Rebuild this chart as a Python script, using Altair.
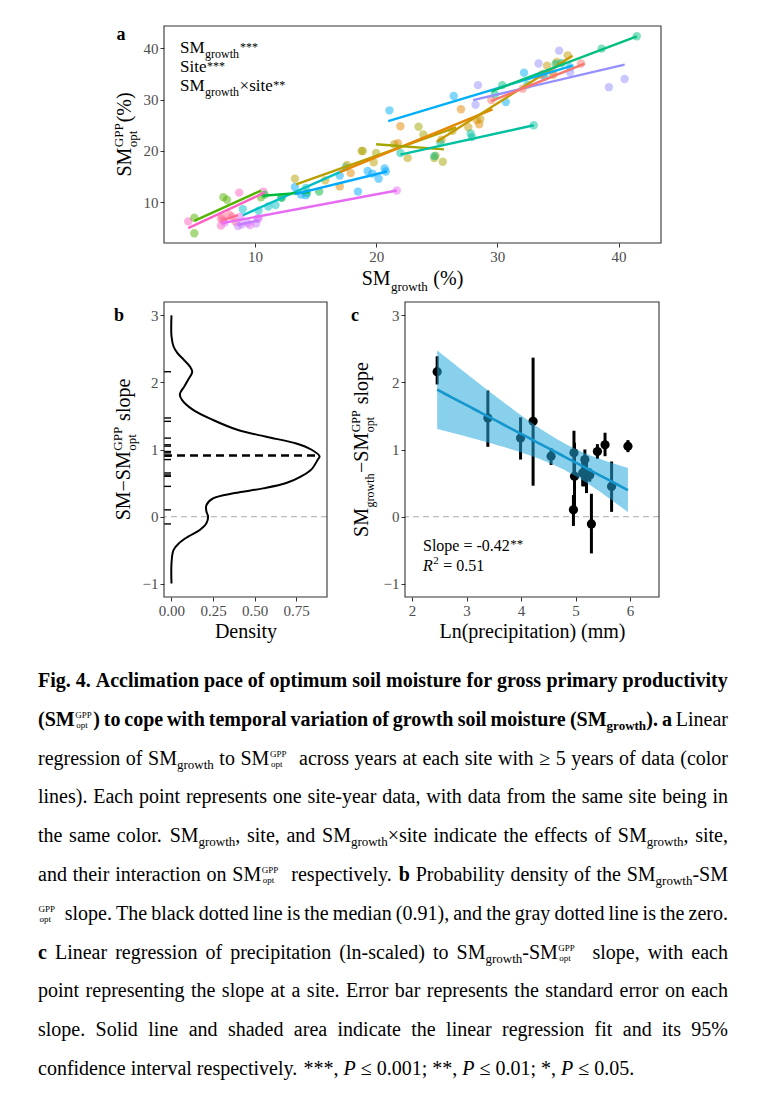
import altair as alt
import numpy as np
import pandas as pd

FONT = "Liberation Serif"
LABEL_GRAY = "#4D4D4D"
FRAME = "#333333"

# ---------------- panel a : site-year points and per-site fits ----------------
SITES = ["S01", "S02", "S03", "S04", "S05", "S06", "S07", "S08", "S09",
         "S10", "S11", "S12", "S13", "S14", "S15", "S16", "S17"]
SITE_COLORS = ["#FF61C3", "#53B400", "#FF6C91", "#C77CFF", "#E76BF3", "#00BFC4",
               "#00BA38", "#00A9FF", "#B79F00", "#E58700", "#C49A00", "#A3A500",
               "#00C19F", "#00B0F6", "#00BF7D", "#9590FF", "#F8766D"]

a_site = ([1] * 5 + [2] * 5 + [3] * 5 + [4] * 5 + [5] * 5 + [6] * 7 + [7] * 4 +
          [8] * 10 + [9] * 8 + [10] * 7 + [11] * 8 + [12] * 7 + [13] * 6 +
          [14] * 6 + [15] * 7 + [16] * 7 + [17] * 5)
a_x = [4.5, 7.2, 7.4, 8.7, 10.7,
       5.0, 5.0, 7.4, 7.7, 10.5,
       7.3, 7.9, 8.4, 8.1, 7.2,
       8.6, 10.1, 10.2, 9.4, 8.9,
       7.5, 8.8, 10.3, 21.7, 9.6,
       9.0, 10.3, 11.1, 11.7, 12.2, 14.2, 17.5,
       10.8, 12.2, 14.3, 15.3,
       13.3, 13.8, 14.2, 17.0, 18.5, 19.3, 19.7, 20.2, 20.7, 20.8,
       13.3, 15.8, 17.6, 18.8, 19.8, 21.5, 22.6, 26.3,
       17.0, 17.9, 21.8, 22.0, 27.0, 28.3, 28.5,
       25.4, 27.6, 28.6, 33.8, 34.1, 34.9, 35.8, 34.6,
       18.9, 20.0, 23.5, 24.9, 25.5, 24.8, 23.9,
       22.0, 24.8, 25.3, 27.8, 27.9, 33.0,
       21.1, 26.4, 30.7, 32.2, 33.9, 36.0,
       29.8, 30.4, 32.5, 34.8, 35.3, 38.6, 41.5,
       28.2, 28.4, 33.4, 35.1, 36.0, 39.2, 40.5,
       29.5, 32.1, 33.6, 36.9, 34.6]
a_y = [6.3, 5.5, 6.5, 11.9, 12.1,
       7.0, 4.0, 11.0, 10.5, 11.0,
       7.3, 7.6, 6.2, 7.2, 6.8,
       5.4, 5.9, 6.8, 6.0, 5.7,
       6.1, 7.2, 6.9, 12.3, 5.6,
       8.7, 8.4, 9.2, 9.5, 11.0, 12.8, 16.9,
       11.5, 10.9, 11.8, 12.1,
       13.0, 11.5, 11.4, 15.2, 12.1, 16.1, 15.6, 14.6, 16.6, 16.0,
       14.6, 14.3, 17.3, 20.0, 17.8, 21.3, 18.6, 23.9,
       13.1, 15.7, 21.5, 24.8, 28.1, 26.0, 25.2,
       22.2, 24.6, 26.2, 35.0, 36.6, 37.3, 38.6, 34.8,
       20.0, 19.6, 24.7, 19.1, 17.9, 18.6, 23.2,
       19.6, 19.0, 21.6, 23.4, 22.7, 25.0,
       27.9, 30.7, 29.5, 35.2, 34.4, 36.3,
       31.0, 32.8, 32.9, 36.9, 37.1, 39.9, 42.3,
       29.0, 32.8, 37.0, 39.5, 35.3, 32.4, 34.0,
       29.9, 32.1, 34.8, 37.0, 35.4]

# fitted line end points per site
fit_x0 = [4.5, 5.0, 7.3, 8.6, 7.4, 9.0, 10.65, 13.3, 13.4, 17.0, 25.0, 20.0, 22.0, 21.0, 29.5, 28.0, 29.5]
fit_y0 = [5.0, 6.4, 6.5, 5.6, 6.0, 7.5, 11.3, 11.6, 13.5, 15.9, 21.8, 21.3, 19.3, 25.8, 31.6, 29.9, 29.7]
fit_x1 = [10.8, 10.5, 8.6, 10.3, 21.7, 17.7, 14.5, 20.9, 26.6, 29.6, 36.2, 25.6, 33.0, 36.2, 41.5, 40.5, 37.2]
fit_y1 = [11.9, 12.3, 7.5, 6.5, 12.3, 16.6, 12.0, 16.0, 24.6, 28.1, 38.5, 20.3, 25.0, 36.6, 42.3, 36.8, 37.0]

# ---------------- panel b : density of slopes ----------------
dens_y = [-1.0, -0.7, -0.5, -0.4, -0.3, -0.2, -0.1, 0.0, 0.075, 0.17, 0.27, 0.35, 0.42,
          0.5, 0.6, 0.7, 0.85, 0.9, 1.0, 1.09, 1.19, 1.29, 1.44, 1.59, 1.74, 1.82,
          1.87, 1.94, 2.04, 2.16, 2.24, 2.34, 2.44, 2.54, 2.69, 3.0]
dens_x = [0.0, 0.0, 0.012, 0.044, 0.10, 0.17, 0.21, 0.22, 0.21, 0.21, 0.25, 0.38, 0.55,
          0.69, 0.78, 0.84, 0.88, 0.89, 0.84, 0.75, 0.57, 0.40, 0.25, 0.13, 0.063, 0.05,
          0.058, 0.077, 0.10, 0.125, 0.11, 0.073, 0.035, 0.012, 0.0, 0.0]
MEDIAN_SLOPE = 0.91
MEDIAN_DENS = 0.89

# ---------------- panel c : slope vs ln(precipitation) ----------------
c_x = [2.46, 3.39, 3.99, 4.22, 4.55, 4.96, 4.97, 4.98, 5.17, 5.13, 5.20, 5.26, 5.29, 5.40, 5.54, 5.66, 5.96]
c_y = [2.16, 1.47, 1.17, 1.42, 0.90, 0.10, 0.95, 0.60, 0.85, 0.65, 0.60, 0.62, -0.11, 0.97, 1.07, 0.45, 1.05]
c_lo = [1.97, 1.04, 0.85, 0.46, 0.77, -0.14, 0.62, 0.10, 0.45, 0.45, 0.35, 0.52, -0.55, 0.86, 0.90, 0.07, 0.96]
c_hi = [2.39, 1.88, 1.48, 2.37, 1.02, 0.32, 1.28, 1.10, 1.00, 0.85, 0.80, 0.72, 0.34, 1.08, 1.25, 0.82, 1.14]

# ---------------- caption ----------------
CAPTION = [
    [("b", "Fig. 4. Acclimation pace of optimum soil moisture for gross primary productivity")],
    [("b", "(SM"), ("ss", ""), ("b", ") to cope with temporal variation of growth soil moisture (SM"),
     ("bsub", "growth"), ("b", "). a"), ("n", " Linear")],
    [("n", "regression of SM"), ("sub", "growth"), ("n", " to SM"), ("ss", ""),
     ("n", "  across years at each site with \u2265 5 years of data (color")],
    [("n", "lines). Each point represents one site-year data, with data from the same site being in")],
    [("n", "the same color. SM"), ("sub", "growth"), ("n", ", site, and SM"), ("sub", "growth"),
     ("n", "\u00d7site indicate the effects of SM"), ("sub", "growth"), ("n", ", site,")],
    [("n", "and their interaction on SM"), ("ss", ""), ("n", "  respectively. "), ("b", "b"),
     ("n", " Probability density of the SM"), ("sub", "growth"), ("n", "-SM")],
    [("ss", ""), ("n", "  slope. The black dotted line is the median (0.91), and the gray dotted line is the zero.")],
    [("b", "c"), ("n", " Linear regression of precipitation (ln-scaled) to SM"), ("sub", "growth"),
     ("n", "-SM"), ("ss", ""), ("n", "  slope, with each")],
    [("n", "point representing the slope at a site. Error bar represents the standard error on each")],
    [("n", "slope. Solid line and shaded area indicate the linear regression fit and its 95%")],
    [("n", "confidence interval respectively. ***, "), ("i", "P"), ("n", " \u2264 0.001; **, "), ("i", "P"),
     ("n", " \u2264 0.01; *, "), ("i", "P"), ("n", " \u2264 0.05.")],
]


# ---------------- text width helper (Times metrics) ----------------
def _mk(groups):
    d = {}
    for w, chars in groups.items():
        for ch in chars:
            d[ch] = w
    return d


W_R = _mk({250: " .,", 278: "ijlt:;/", 333: "fr()-I'[]", 389: "sJ", 444: "acez?",
           500: "bdghknopquvxy0123456789*#$\u2013", 549: "\u2265\u2264", 556: "FPS",
           564: "\u00d7=+<>\u2212", 611: "ELTZ", 667: "BCR", 722: "ADGHKNOQUVXYw",
           778: "m&", 833: "%", 889: "M", 944: "W"})
W_B = _mk({250: " .,", 278: "ijl", 333: "ft()-:;Ij", 389: "s", 444: "cerz",
           500: "agvxy0123456789*J\u2013", 556: "bdhknpquS", 570: "=+\u00d7\u2212\u2265\u2264",
           611: "FP", 667: "ELTZB", 722: "ACDNRUVXYw", 778: "GHKOQ", 833: "m", 944: "M",
           1000: "%W"})
W_I = dict(W_R)
W_I.update({"P": 611, "R": 611})


def tw(text, size, weight="normal", italic=False):
    tab = W_B if weight == "bold" else (W_I if italic else W_R)
    return sum(tab.get(c, 500) for c in text) * size / 1000.0


ONE = pd.DataFrame({"k": [0]})


def txt(s, x, y, size, weight="normal", style="normal", angle=0, align="left",
        baseline="alphabetic", color="black"):
    return alt.Chart(ONE).mark_text(
        text=s, font=FONT, fontSize=size, fontWeight=weight, fontStyle=style,
        angle=angle, align=align, baseline=baseline, color=color
    ).encode(x=alt.value(x), y=alt.value(y))


def _piece_w(t, k, size, small):
    if k == "m":
        return tw(t, size)
    if k == "i":
        return tw(t, size, italic=True)
    if k in ("sub", "sup", "star"):
        return tw(t, small) + 1
    if k == "ss":
        return max(tw("GPP", small), tw("opt", small)) + 1.5
    return 0.0


def rich_w(pieces, size, small):
    return sum(_piece_w(t, k, size, small) for t, k in pieces)


def rich(pieces, x0, y0, size, small, angle=0, star_raise=0.12):
    """Lay out a run of text pieces (main / italic / sub / sup / stacked GPP-opt)."""
    layers = []
    u = 0.0

    def place(t, du, dv, fs, style="normal"):
        if angle == 0:
            px, py = x0 + du, y0 + dv
        else:
            px, py = x0 + dv, y0 - du
        layers.append(txt(t, px, py, fs, style=style, angle=angle))

    for t, k in pieces:
        # SVG drops leading blanks, so turn them into an advance of the cursor
        lead = len(t) - len(t.lstrip(" "))
        if lead:
            u += lead * tw(" ", size if k in ("m", "i") else small)
            t = t.lstrip(" ")
        if k == "m":
            place(t, u, 0, size)
        elif k == "i":
            place(t, u, 0, size, "italic")
        elif k == "sub":
            place(t, u + 0.5, size * 0.28, small)
        elif k == "sup":
            place(t, u + 0.5, -size * 0.42, small)
        elif k == "star":
            place(t, u + 0.5, -size * star_raise, small)
        elif k == "ss":
            place("GPP", u + 0.5, -size * 0.42, small)
            place("opt", u + 0.5, size * 0.28, small)
        u += _piece_w(t, k, size, small)
    return layers


def marker(x, y):
    return alt.Chart(ONE).mark_point(opacity=0, size=1).encode(x=alt.value(x), y=alt.value(y))


def frame(w, h):
    return alt.Chart(ONE).mark_rect(fillOpacity=0, stroke=FRAME, strokeWidth=1.1).encode(
        x=alt.value(0), x2=alt.value(w), y=alt.value(0), y2=alt.value(h))


LEFT_EXT = 126

# ================= panel a =================
WA, HA = 497, 217
df_a = pd.DataFrame({"site": [SITES[i - 1] for i in a_site], "x": a_x, "y": a_y})
df_fit = pd.DataFrame({
    "site": SITES + SITES,
    "x": fit_x0 + fit_x1,
    "y": fit_y0 + fit_y1,
})
XA = alt.X("x:Q", scale=alt.Scale(domain=[2.5, 43.5], nice=False, zero=False),
           axis=alt.Axis(values=[10, 20, 30, 40], title=None))
YA = alt.Y("y:Q", scale=alt.Scale(domain=[2.1, 44.3], nice=False, zero=False),
           axis=alt.Axis(values=[10, 20, 30, 40], title=None))
COLOR = alt.Color("site:N", scale=alt.Scale(domain=SITES, range=SITE_COLORS), legend=None)

a_pts = alt.Chart(df_a).mark_circle(size=70, opacity=0.5).encode(x=XA, y=YA, color=COLOR)
a_fit = alt.Chart(df_fit).mark_line(strokeWidth=2.4).encode(x=XA, y=YA, color=COLOR, detail="site:N")

a_texts = [txt("a", -43, 9, 18, weight="bold", align="center", baseline="middle")]
yt = [("SM", "m"), ("", "ss"), ("(%)", "m")]
a_texts += rich(yt, -33, HA / 2 + rich_w(yt, 20, 13) / 2, 20, 13, angle=270)
xt = [("SM", "m"), ("growth", "sub"), (" (%)", "m")]
a_texts += rich(xt, WA / 2 - rich_w(xt, 20, 13) / 2, HA + 42, 20, 13)
a_texts += rich([("SM", "m"), ("growth", "sub"), ("***", "star")], 16, 27, 17, 12)
a_texts += rich([("Site", "m"), ("***", "star")], 16, 46, 17, 12)
a_texts += rich([("SM", "m"), ("growth", "sub"), ("\u00d7site", "m"), ("**", "star")], 16, 65, 17, 12)

panel_a = alt.layer(a_pts, a_fit, frame(WA, HA), *a_texts, marker(-LEFT_EXT, HA + 52)).properties(
    width=WA, height=HA)

# ================= panel b =================
WB, HB = 163, 295
YSCALE = alt.Scale(domain=[-1.2, 3.2], nice=False, zero=False)
YAX = alt.Axis(values=[-1, 0, 1, 2, 3], title=None)
XB_SCALE = alt.Scale(domain=[-0.045, 0.935], nice=False, zero=False)
XB_AX = alt.Axis(values=[0, 0.25, 0.5, 0.75], format=".2f", title="Density", titlePadding=3)

df_dens = pd.DataFrame({"d": dens_x, "s": dens_y, "i": list(range(len(dens_y)))})
df_zero = pd.DataFrame({"s": [0.0]})
df_med = pd.DataFrame({"s": [MEDIAN_SLOPE], "d0": [XB_SCALE.domain[0]], "d1": [MEDIAN_DENS]})
df_rug = pd.DataFrame({"s": c_y})

b_zero = alt.Chart(df_zero).mark_rule(color="#BDBDBD", strokeDash=[6, 4], strokeWidth=1.3).encode(
    y=alt.Y("s:Q", scale=YSCALE, axis=YAX))
b_curve = alt.Chart(df_dens).mark_line(color="black", strokeWidth=2, interpolate="catmull-rom").encode(
    x=alt.X("d:Q", scale=XB_SCALE, axis=XB_AX), y=alt.Y("s:Q", scale=YSCALE, axis=YAX),
    order=alt.Order("i:Q"))
b_med = alt.Chart(df_med).mark_rule(color="black", strokeDash=[8, 5], strokeWidth=2.4).encode(
    x=alt.X("d0:Q", scale=XB_SCALE, axis=XB_AX), x2="d1:Q", y=alt.Y("s:Q", scale=YSCALE, axis=YAX))
b_rug = alt.Chart(df_rug).mark_rule(color="black", strokeWidth=1.4).encode(
    x=alt.value(0), x2=alt.value(7), y=alt.Y("s:Q", scale=YSCALE, axis=YAX))

b_texts = [txt("b", -45, 14, 18, weight="bold", align="center", baseline="middle")]
bt = [("SM\u2212SM", "m"), ("", "ss"), (" slope", "m")]
b_texts += rich(bt, -34, HB / 2 + rich_w(bt, 20, 13) / 2, 20, 13, angle=270)

panel_b = alt.layer(b_zero, b_curve, b_med, b_rug, frame(WB, HB), *b_texts,
                    marker(-LEFT_EXT, HB + 52)).properties(width=WB, height=HB)

# ================= panel c =================
WC, HC = 254, 295
XC_SCALE = alt.Scale(domain=[1.87, 6.53], nice=False, zero=False)
XC_AX = alt.Axis(values=[2, 3, 4, 5, 6], title="Ln(precipitation) (mm)", titlePadding=3)

cx = np.array(c_x)
cy = np.array(c_y)
n = len(cx)
b1, b0 = np.polyfit(cx, cy, 1)
xs = np.linspace(cx.min(), cx.max(), 80)
fit = b0 + b1 * xs
resid = cy - (b0 + b1 * cx)
s_res = np.sqrt((resid ** 2).sum() / (n - 2))
sxx = ((cx - cx.mean()) ** 2).sum()
se = s_res * np.sqrt(1.0 / n + (xs - cx.mean()) ** 2 / sxx)
T975 = 2.131  # Student t 0.975 quantile, df = 15
df_reg = pd.DataFrame({"p": xs, "fit": fit, "lo": fit - T975 * se, "hi": fit + T975 * se})
df_c = pd.DataFrame({"p": c_x, "s": c_y, "lo": c_lo, "hi": c_hi})


def YC(field):
    return alt.Y(field, scale=YSCALE, axis=YAX)


XC = alt.X("p:Q", scale=XC_SCALE, axis=XC_AX)

c_zero = alt.Chart(df_zero).mark_rule(color="#BDBDBD", strokeDash=[6, 4], strokeWidth=1.3).encode(
    y=YC("s:Q"))
c_err = alt.Chart(df_c).mark_rule(color="black", strokeWidth=3).encode(
    x=XC, y=YC("lo:Q"), y2="hi:Q")
c_pts = alt.Chart(df_c).mark_circle(size=85, color="black", opacity=1).encode(x=XC, y=YC("s:Q"))
c_band = alt.Chart(df_reg).mark_area(color="#25A8DC", opacity=0.54).encode(
    x=XC, y=YC("lo:Q"), y2="hi:Q")
c_line = alt.Chart(df_reg).mark_line(color="#1596CD", strokeWidth=2.6).encode(x=XC, y=YC("fit:Q"))

c_texts = [txt("c", -50, 14, 18, weight="bold", align="center", baseline="middle")]
ct = [("SM", "m"), ("growth", "sub"), ("\u2212SM", "m"), ("", "ss"), (" slope", "m")]
c_texts += rich(ct, -37, HC / 2 + rich_w(ct, 20, 12) / 2, 20, 12, angle=270)
c_texts += rich([("Slope = -0.42", "m"), ("**", "star")], 18, 249, 16, 13, star_raise=0.2)
c_texts += rich([("R", "i"), ("2", "sup"), (" = 0.51", "m")], 18, 269, 16, 11)

panel_c = alt.layer(c_zero, c_err, c_pts, c_band, c_line, frame(WC, HC), *c_texts,
                    marker(-62, HC + 52)).properties(width=WC, height=HC)

# ================= caption =================
CAP_W = 690
CAP_Y0 = 32
CAP_DY = 38.8
SIZES = {"n": 20, "b": 20, "i": 20, "sub": 13, "bsub": 13}


def run_w(st, text):
    if st == "ss":
        return tw("GPP", 9) + 2
    weight = "bold" if st in ("b", "bsub") else "normal"
    return tw(text, SIZES[st], weight, italic=(st == "i"))


items = []
for li, runs in enumerate(CAPTION):
    yb = CAP_Y0 + li * CAP_DY
    nat = sum(run_w(st, t) for st, t in runs)
    nsp = sum(t.count(" ") for st, t in runs if st in ("n", "b", "i"))
    extra = 0.0
    if li < len(CAPTION) - 1 and nsp:
        extra = max((CAP_W - nat) / nsp, -2.5)
    x = -LEFT_EXT
    for st, t in runs:
        if st == "ss":
            items.append(dict(t="GPP", x=x + 0.5, y=yb - 8, st="tiny"))
            items.append(dict(t="opt", x=x + 1.5, y=yb + 2, st="tiny"))
            x += run_w(st, t)
            continue
        parts = t.split(" ")
        for k, p in enumerate(parts):
            if k > 0:
                x += run_w(st, " ") + (extra if st in ("n", "b", "i") else 0)
            if p:
                yy = yb + (4 if st in ("sub", "bsub") else 0)
                items.append(dict(t=p, x=x, y=yy, st=st))
                x += run_w(st, p)

cap_df = pd.DataFrame(items)
CAP_STYLES = [("n", 20, "normal", "normal"), ("b", 20, "bold", "normal"), ("i", 20, "normal", "italic"),
              ("sub", 13, "normal", "normal"), ("bsub", 13, "bold", "normal"), ("tiny", 9, "normal", "normal")]
cap_layers = []
for st, fs, fw, fst in CAP_STYLES:
    cap_layers.append(
        alt.Chart(cap_df).transform_filter(alt.datum.st == st).mark_text(
            align="left", baseline="alphabetic", font=FONT, fontSize=fs, fontWeight=fw,
            fontStyle=fst, color="black"
        ).encode(x=alt.X("x:Q", scale=None, axis=None), y=alt.Y("y:Q", scale=None, axis=None),
                 text="t:N")
    )
caption = alt.layer(*cap_layers, marker(-LEFT_EXT, 0)).properties(width=CAP_W - LEFT_EXT, height=425)

# ================= assemble =================
bc = alt.hconcat(panel_b, panel_c, spacing=13)
chart = alt.vconcat(panel_a, bc, caption, spacing=4).properties(
    padding={"left": 29, "top": 16, "right": 5, "bottom": 5}
).configure_axis(
    labelFont=FONT, titleFont=FONT, labelFontSize=15, labelColor=LABEL_GRAY,
    tickColor=FRAME, tickSize=4, tickWidth=1, domain=False, grid=False, labelPadding=2,
    titleFontWeight="normal", titleColor="black", titleFontSize=20, labelFlush=False
).configure_view(stroke="transparent")

chart.save("out.html", embed_options={"renderer": "svg", "actions": False})
